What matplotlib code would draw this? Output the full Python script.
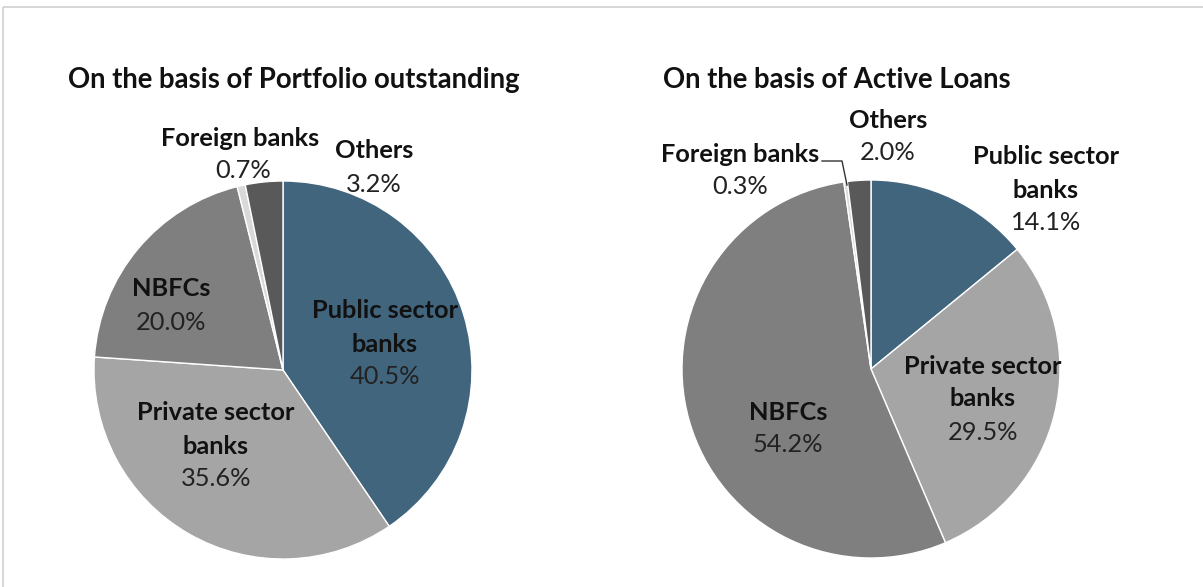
import matplotlib
matplotlib.use("Agg")
import matplotlib.pyplot as plt
from matplotlib.patches import Rectangle

plt.rcParams['font.family'] = ['Lato', 'DejaVu Sans']

categories = ["Public sector banks", "Private sector banks", "NBFCs", "Foreign banks", "Others"]
portfolio = [40.5, 35.6, 20.0, 0.7, 3.2]
active_loans = [14.1, 29.5, 54.2, 0.3, 2.0]
colors = ["#42657e", "#a5a5a5", "#7f7f7f", "#d9d9d9", "#595959"]
titles = ["On the basis of Portfolio outstanding", "On the basis of Active Loans"]

W, H = 1203, 587
fig = plt.figure(figsize=(W / 100, H / 100), dpi=100)
ax = fig.add_axes([0, 0, 1, 1])

centers = [(283, 370), (871, 369)]
R = 189
# y axis is inverted below, so angles are mirrored: start at -90 and go counterclockwise
# in data space to obtain a visually clockwise pie starting at 12 o'clock.
for data, c in zip([portfolio, active_loans], centers):
    ax.pie(data, colors=colors, startangle=-90, counterclock=True, center=c, radius=R,
           wedgeprops=dict(edgecolor="white", linewidth=1.0), frame=True)
ax.set_xlim(0, W)
ax.set_ylim(H, 0)
ax.set_aspect('equal')
ax.axis('off')

# frame
ax.add_patch(Rectangle((2.5, 6.5), W + 10, H + 10, fill=False, edgecolor="#d0d0d0", lw=1.2))

# titles
ax.text(68, 80, titles[0], fontsize=19.8, fontweight='bold', ha='left', va='center', color='#111111')
ax.text(663, 80, titles[1], fontsize=19.8, fontweight='bold', ha='left', va='center', color='#111111')

fs = 18.3
def lab(x, y, lines, pct, dy=33):
    n = len(lines)
    for i, ln in enumerate(lines):
        ax.text(x, y + i * dy, ln, fontsize=fs, fontweight='bold', ha='center', va='center', color='#111111')
    ax.text(x, y + n * dy, pct, fontsize=fs, ha='center', va='center', color='#222222')

def pct(v):
    return f"{v:.1f}%"

# Chart 1 labels
lab(385, 311, ["Public sector", "banks"], pct(portfolio[0]))
lab(216, 413, ["Private sector", "banks"], pct(portfolio[1]))
lab(171, 289, ["NBFCs"], pct(portfolio[2]))
ax.text(240, 138, "Foreign banks", fontsize=fs, fontweight='bold', ha='center', va='center', color='#111111')
ax.text(243, 171, pct(portfolio[3]), fontsize=fs, ha='center', va='center', color='#222222')
lab(374, 151, ["Others"], pct(portfolio[4]))

# Chart 2 labels
lab(1046, 157, ["Public sector", "banks"], pct(active_loans[0]))
lab(983, 366, ["Private sector", "banks"], pct(active_loans[1]))
lab(788, 412, ["NBFCs"], pct(active_loans[2]))
lab(740, 154, ["Foreign banks"], pct(active_loans[3]))
lab(888, 120, ["Others"], pct(active_loans[4]))
ax.plot([822, 842, 847], [161, 161, 185], color='#333333', lw=1.0)

fig.savefig("out.png", dpi=100)
